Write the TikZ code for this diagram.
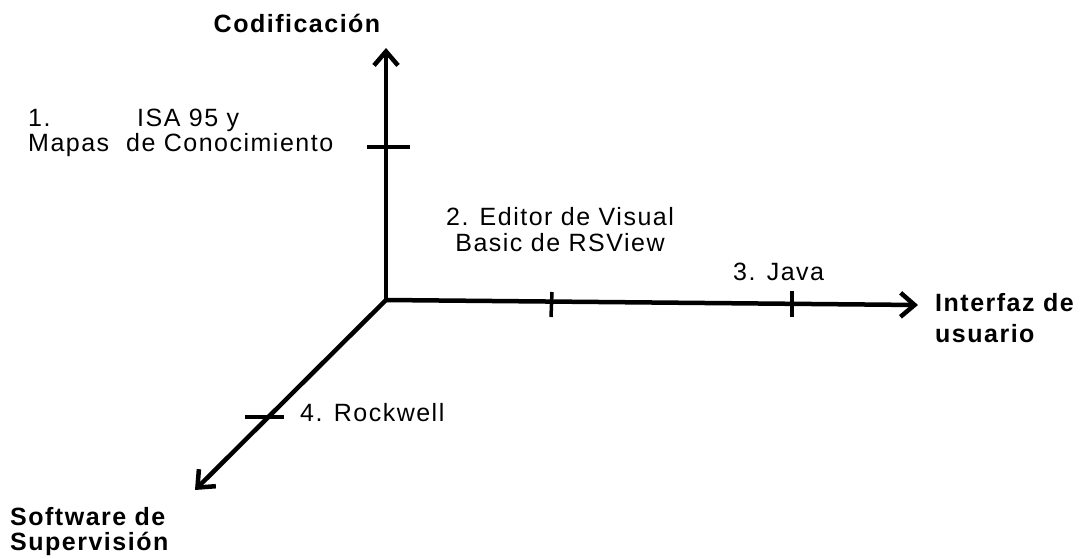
\documentclass[tikz,border=0pt]{standalone}
\usepackage{fontspec}
\setmainfont{Liberation Sans}[LetterSpace=6]
\usetikzlibrary{arrows.meta}
\begin{document}
\begin{tikzpicture}[x=1pt,y=-1pt,
  axis/.style={line width=4.5pt, -{Straight Barb[length=14pt,width=24pt,line width=4.5pt]}},
  tickmark/.style={line width=3.5pt},
  lbl/.style={font=\fontsize{25}{26}\selectfont, inner sep=0pt, anchor=base west, align=left},
  blbl/.style={lbl, font=\fontsize{25}{30}\selectfont\bfseries}]
\useasboundingbox[fill=white] (0,0) rectangle (1089,559);
% axes
\coordinate (O) at (386,300);
\coordinate (V) at (386,48);
\coordinate (H) at (918,305);
\coordinate (D) at (195,490);
\draw[axis] (O) -- (V);
\draw[axis] (O) -- (H);
\draw[axis] (O) -- (D);
% ticks
\coordinate (t1a) at (367,147); \coordinate (t1b) at (410,147);
\coordinate (t2a) at (552,292); \coordinate (t2b) at (551,317);
\coordinate (t3a) at (792,291); \coordinate (t3b) at (792,317);
\coordinate (t4a) at (245,417); \coordinate (t4b) at (284,417);
\draw[tickmark] (t1a) -- (t1b);
\draw[tickmark] (t2a) -- (t2b);
\draw[tickmark] (t3a) -- (t3b);
\draw[tickmark] (t4a) -- (t4b);
% labels
\node[blbl, anchor=base] (cod) at (297,33) {Codificación};
\node[lbl] (n1) at (28,127) {1.};
\node[lbl] (isa) at (137,127) {ISA 95 y};
\node[lbl] (mapas) at (28,151) {Mapas\ \ de Conocimiento};
\node[lbl, anchor=center, align=center, font=\fontsize{25}{26}\selectfont] (ed) at (560,230) {2. Editor de Visual\\Basic de RSView};
\node[lbl] (java) at (733,280) {3. Java};
\node[blbl, anchor=north west, font=\fontsize{25}{31}\selectfont\bfseries] (int) at (935,293) {Interfaz de\\usuario};
\node[lbl] (rock) at (300,421) {4. Rockwell};
\node[blbl, anchor=north west, font=\fontsize{25}{25}\selectfont\bfseries] (sw) at (10,507) {Software de\\Supervisión};
\end{tikzpicture}
\end{document}
